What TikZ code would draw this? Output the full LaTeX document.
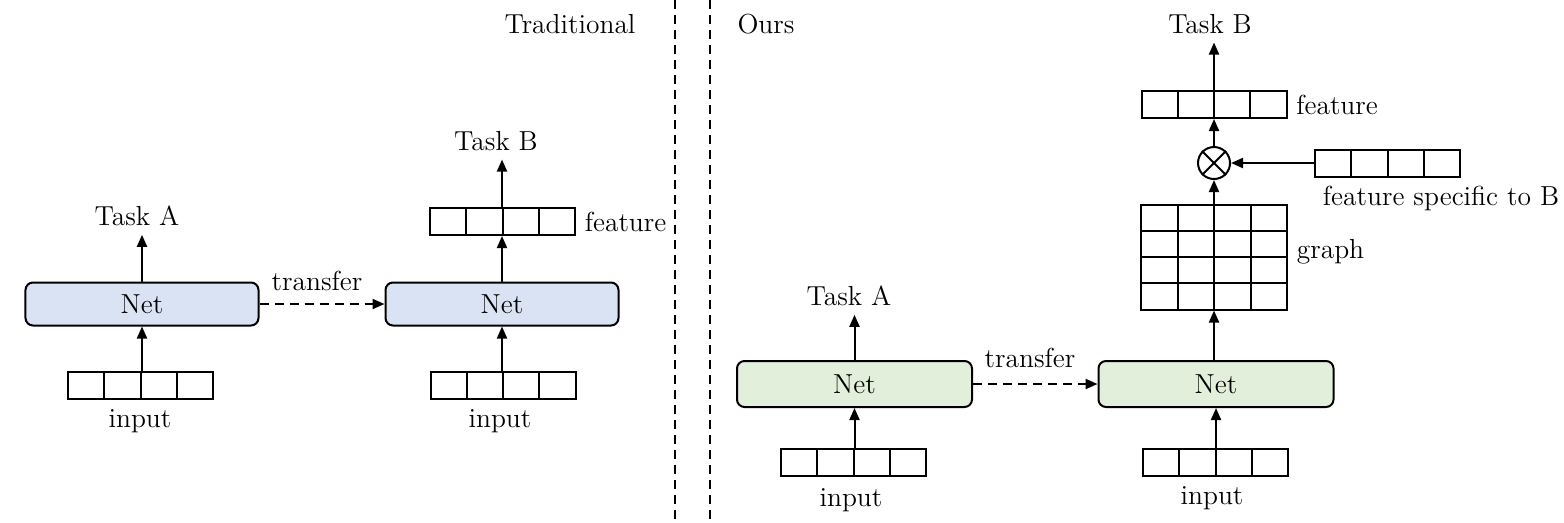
\documentclass[tikz,border=0pt]{standalone}
\usetikzlibrary{arrows.meta,calc}
\definecolor{netblue}{RGB}{218,227,243}
\definecolor{netgreen}{RGB}{226,239,218}
\begin{document}
\begin{tikzpicture}[x=0.4pt,y=-0.4pt,
  every node/.style={font=\fontsize{11pt}{13pt}\selectfont},
  conn/.style={line width=0.8pt,-{Triangle[length=4.8pt,width=4pt]}},
  dashconn/.style={conn,dash pattern=on 3.6pt off 2.4pt},
  divider/.style={line width=0.8pt,dash pattern=on 3.6pt off 2.4pt},
  netbox/.style={draw,line width=0.8pt,rounded corners=3pt,minimum width=93.2pt,minimum height=17.2pt,inner sep=0pt},
  arr/.style={draw,line width=0.8pt,minimum width=58pt,minimum height=10.8pt,inner sep=0pt,
    path picture={\foreach \i in {0.25,0.5,0.75}{\draw[line width=0.8pt] ($(path picture bounding box.south west)!\i!(path picture bounding box.south east)$) -- ($(path picture bounding box.north west)!\i!(path picture bounding box.north east)$);}}},
  gridbox/.style={draw,line width=0.8pt,minimum width=58.4pt,minimum height=42pt,inner sep=0pt,
    path picture={\foreach \i in {0.25,0.5,0.75}{\draw[line width=0.8pt] ($(path picture bounding box.south west)!\i!(path picture bounding box.south east)$) -- ($(path picture bounding box.north west)!\i!(path picture bounding box.north east)$);
      \draw[line width=0.8pt] ($(path picture bounding box.south west)!\i!(path picture bounding box.north west)$) -- ($(path picture bounding box.south east)!\i!(path picture bounding box.north east)$);}}},
  opnode/.style={circle,draw,line width=0.8pt,minimum size=12.8pt,inner sep=0pt}]
\useasboundingbox (0,0) rectangle (1564,522);

% dividers
\coordinate (d1t) at (675,0);
\coordinate (d1b) at (675,522);
\coordinate (d2t) at (710,0);
\coordinate (d2b) at (710,522);
\draw[divider] (d1t) -- (d1b);
\draw[divider] (d2t) -- (d2b);

% ---------- Traditional ----------
\node (trad) at (570,24) {Traditional};
\node[netbox,fill=netblue] (lnetA) at (142,304) {Net};
\node[netbox,fill=netblue] (lnetB) at (502,304) {Net};
\node[arr] (linA) at (140.5,385.5) {};
\node[arr] (linB) at (503,385.5) {};
\node (linAl) at (140,421) {input};
\node (linBl) at (500,421) {input};
\node (ltaskA) at (137,216) {Task A};
\node[arr] (lfeat) at (502.5,221.5) {};
\node[right] (lfeatl) at (lfeat.east) {feature};
\node (ltaskB) at (496,141) {Task B};
\node (ltr) at (317,281) {transfer};

\draw[conn] (lnetA.south |- linA.north) -- (lnetA.south);
\draw[conn] (lnetB.south |- linB.north) -- (lnetB.south);
\draw[conn] (lnetA.north) -- (lnetA.north |- ltaskA.south);
\draw[conn] (lnetB.north) -- (lnetB.north |- lfeat.south);
\draw[conn] (lnetB.north |- lfeat.north) -- (lnetB.north |- ltaskB.south);
\draw[dashconn] (lnetA.east) -- (lnetB.west);

% ---------- Ours ----------
\node (ours) at (766,24) {Ours};
\node[netbox,fill=netgreen,minimum width=94pt,minimum height=18.4pt] (rnetA) at (854.5,384) {Net};
\node[netbox,fill=netgreen,minimum width=94pt,minimum height=18.4pt] (rnetB) at (1216,384) {Net};
\node[arr] (rinA) at (853.5,462.5) {};
\node[arr] (rinB) at (1215.5,462.5) {};
\node (rinAl) at (851,500) {input};
\node (rinBl) at (1212,498) {input};
\node (rtaskA) at (849,296) {Task A};
\node (rtr) at (1030,358) {transfer};
\node[gridbox] (graph) at (1214,257) {};
\node[right] (graphl) at ($(graph.east)+(0,-5)$) {graph};
\node[opnode] (otimes) at (1214,163) {};
\draw[line width=0.8pt] (otimes.north west) -- (otimes.south east);
\draw[line width=0.8pt] (otimes.north east) -- (otimes.south west);
\node[arr] (rfeat) at (1214,104.5) {};
\node[right] (rfeatl) at (rfeat.east) {feature};
\node (rtaskB) at (1210,24) {Task B};
\node[arr] (spec) at (1387.5,163) {};
\node (specl) at (1441,198) {feature specific to B};

\draw[conn] (rnetA.south |- rinA.north) -- (rnetA.south);
\draw[conn] (rnetB.south |- rinB.north) -- (rnetB.south);
\draw[conn] (rnetA.north) -- (rnetA.north |- rtaskA.south);
\draw[dashconn] (rnetA.east) -- (rnetB.west);
\draw[conn] (rnetB.north -| graph.south) -- (graph.south);
\draw[conn] (graph.north) -- (otimes.south);
\draw[conn] (otimes.north) -- (rfeat.south);
\draw[conn] (rfeat.north) -- (rfeat.north |- rtaskB.south);
\draw[conn] (spec.west) -- (otimes.east);
\end{tikzpicture}
\end{document}
